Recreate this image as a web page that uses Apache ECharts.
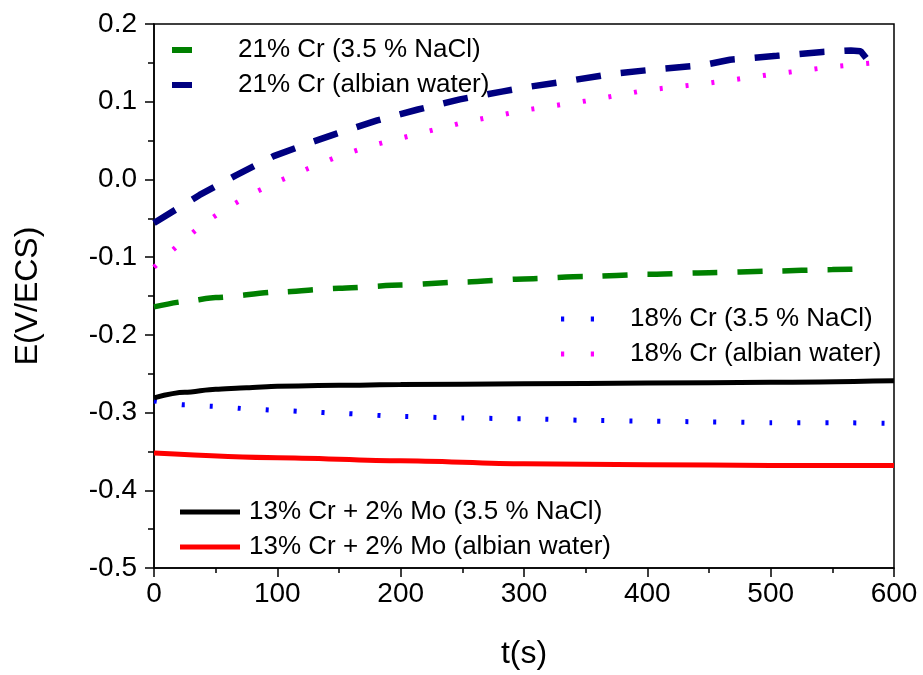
<!DOCTYPE html>
<html>
<head>
<meta charset="utf-8">
<script src="https://cdn.jsdelivr.net/npm/echarts@6/dist/echarts.min.js"></script>
<style>
html,body{margin:0;padding:0;background:#fff;}
#chart{width:923px;height:675px;}
</style>
</head>
<body>
<div id="chart"></div>
<script>
// ---- data ----
const names = [
  '21% Cr (3.5 % NaCl)',
  '21% Cr (albian water)',
  '18% Cr (3.5 % NaCl)',
  '18% Cr (albian water)',
  '13% Cr + 2% Mo (3.5 % NaCl)',
  '13% Cr + 2% Mo (albian water)'
];

const tGreen = [0, 25, 50, 100, 150, 200, 250, 300, 350, 400, 450, 500, 550, 580];
const eGreen = [-0.164, -0.157, -0.152, -0.145, -0.140, -0.136, -0.132, -0.128, -0.125, -0.122, -0.120, -0.118, -0.116, -0.115];

const tNavy = [0, 37, 66, 97, 128, 148, 181, 214, 248, 282, 303, 337, 372, 409, 445, 467, 505, 542, 565, 573, 580];
const eNavy = [-0.056, -0.020, 0.005, 0.030, 0.048, 0.059, 0.076, 0.090, 0.103, 0.113, 0.119, 0.127, 0.136, 0.142, 0.147, 0.154, 0.159, 0.164, 0.166, 0.165, 0.151];

const tBlue = [0, 25, 50, 75, 100, 125, 150, 200, 250, 300, 350, 400, 450, 500, 550, 600];
const eBlue = [-0.285, -0.290, -0.292, -0.295, -0.297, -0.299, -0.301, -0.305, -0.307, -0.308, -0.310, -0.311, -0.312, -0.313, -0.313, -0.314];

const tMagenta = [0, 20, 40, 60, 80, 100, 125, 150, 175, 200, 250, 300, 350, 400, 450, 500, 550, 590];
const eMagenta = [-0.113, -0.084, -0.057, -0.036, -0.018, -0.003, 0.014, 0.030, 0.043, 0.053, 0.073, 0.089, 0.101, 0.115, 0.124, 0.135, 0.145, 0.151];

const tBlack = [0, 25, 50, 75, 100, 150, 200, 300, 400, 500, 600];
const eBlack = [-0.281, -0.274, -0.270, -0.268, -0.266, -0.265, -0.264, -0.263, -0.262, -0.261, -0.259];

const tRed = [0, 100, 200, 300, 400, 500, 600];
const eRed = [-0.352, -0.358, -0.362, -0.366, -0.367, -0.368, -0.368];

const xTicks = [0, 100, 200, 300, 400, 500, 600];
const yTicks = [-0.5, -0.4, -0.3, -0.2, -0.1, 0.0, 0.1, 0.2];

// ---- build ----
const pair = (t, e) => t.map((v, i) => [v, e[i]]);
const FONT = '"Liberation Sans", Arial, sans-serif';

function mk(name, t, e, color, width, dash, smooth) {
  return {
    name: name, type: 'line', data: pair(t, e),
    symbol: 'none', smooth: smooth, smoothMonotone: 'x',
    lineStyle: { color: color, width: width, type: dash, cap: 'butt' },
    itemStyle: { color: color },
    animation: false
  };
}

const chart = echarts.init(document.getElementById('chart'), null, { renderer: 'canvas' });
const legendText = { fontFamily: FONT, fontSize: 26, color: '#000' };

chart.setOption({
  backgroundColor: '#fff',
  animation: false,
  grid: { left: 154, right: 29, top: 24, bottom: 104, show: true, borderColor: '#000', borderWidth: 1.5, backgroundColor: 'transparent' },
  xAxis: {
    type: 'value', min: xTicks[0], max: xTicks[xTicks.length - 1], interval: 100,
    name: 't(s)', nameLocation: 'middle', nameGap: 70,
    nameTextStyle: { fontFamily: FONT, fontSize: 32, color: '#000' },
    axisLine: { onZero: false, lineStyle: { color: '#000', width: 1.5 } },
    axisTick: { inside: false, length: 9, lineStyle: { color: '#000', width: 1.5 } },
    minorTick: { show: true, splitNumber: 2, length: 5, lineStyle: { color: '#000', width: 1.5 } },
    axisLabel: { fontFamily: FONT, fontSize: 28, color: '#000', margin: 12 },
    splitLine: { show: false }
  },
  yAxis: {
    type: 'value', min: yTicks[0], max: yTicks[yTicks.length - 1], interval: 0.1,
    name: 'E(V/ECS)', nameLocation: 'middle', nameGap: 110, nameRotate: 90,
    nameTextStyle: { fontFamily: FONT, fontSize: 32, color: '#000' },
    axisLine: { onZero: false, lineStyle: { color: '#000', width: 1.5 } },
    axisTick: { inside: false, length: 9, lineStyle: { color: '#000', width: 1.5 } },
    minorTick: { show: true, splitNumber: 2, length: 6, lineStyle: { color: '#000', width: 1.5 } },
    axisLabel: { fontFamily: FONT, fontSize: 28, color: '#000', margin: 17, formatter: v => v.toFixed(1) },
    splitLine: { show: false }
  },
  legend: [
    {
      data: [names[0], names[1]], orient: 'vertical', left: 172, top: 37, padding: 0,
      itemWidth: 20, itemHeight: 6, itemGap: 9, icon: 'rect', symbolKeepAspect: false,
      textStyle: Object.assign({ padding: [0, 0, 0, 41], lineHeight: 24 }, legendText),
      selectedMode: false
    },
    {
      data: [names[2], names[3]], orient: 'vertical', left: 561, top: 306, padding: 0,
      itemWidth: 33, itemHeight: 5, itemGap: 9,
      icon: 'path://M0,0h3v5h-3z M28,0h3v5h-3z', symbolKeepAspect: false,
      textStyle: Object.assign({ padding: [0, 0, 0, 31], lineHeight: 24 }, legendText),
      selectedMode: false
    },
    {
      data: [names[4], names[5]], orient: 'vertical', left: 180, top: 499, padding: 0,
      itemWidth: 60, itemHeight: 5, itemGap: 9, icon: 'rect', symbolKeepAspect: false,
      textStyle: Object.assign({ padding: [0, 0, 0, 4], lineHeight: 24 }, legendText),
      selectedMode: false
    }
  ],
  series: [
    mk(names[0], tGreen, eGreen, '#008000', 5.5, [25, 20], 0.2),
    mk(names[1], tNavy, eNavy, '#000080', 6.5, [25, 20], false),
    mk(names[2], tBlue, eBlue, '#0000ff', 5, [3, 25], 0.2),
    mk(names[3], tMagenta, eMagenta, '#ff00ff', 5, [3, 23], false),
    mk(names[4], tBlack, eBlack, '#000000', 5, 'solid', 0.3),
    mk(names[5], tRed, eRed, '#ff0000', 5, 'solid', 0.3)
  ]
});
</script>
</body>
</html>
